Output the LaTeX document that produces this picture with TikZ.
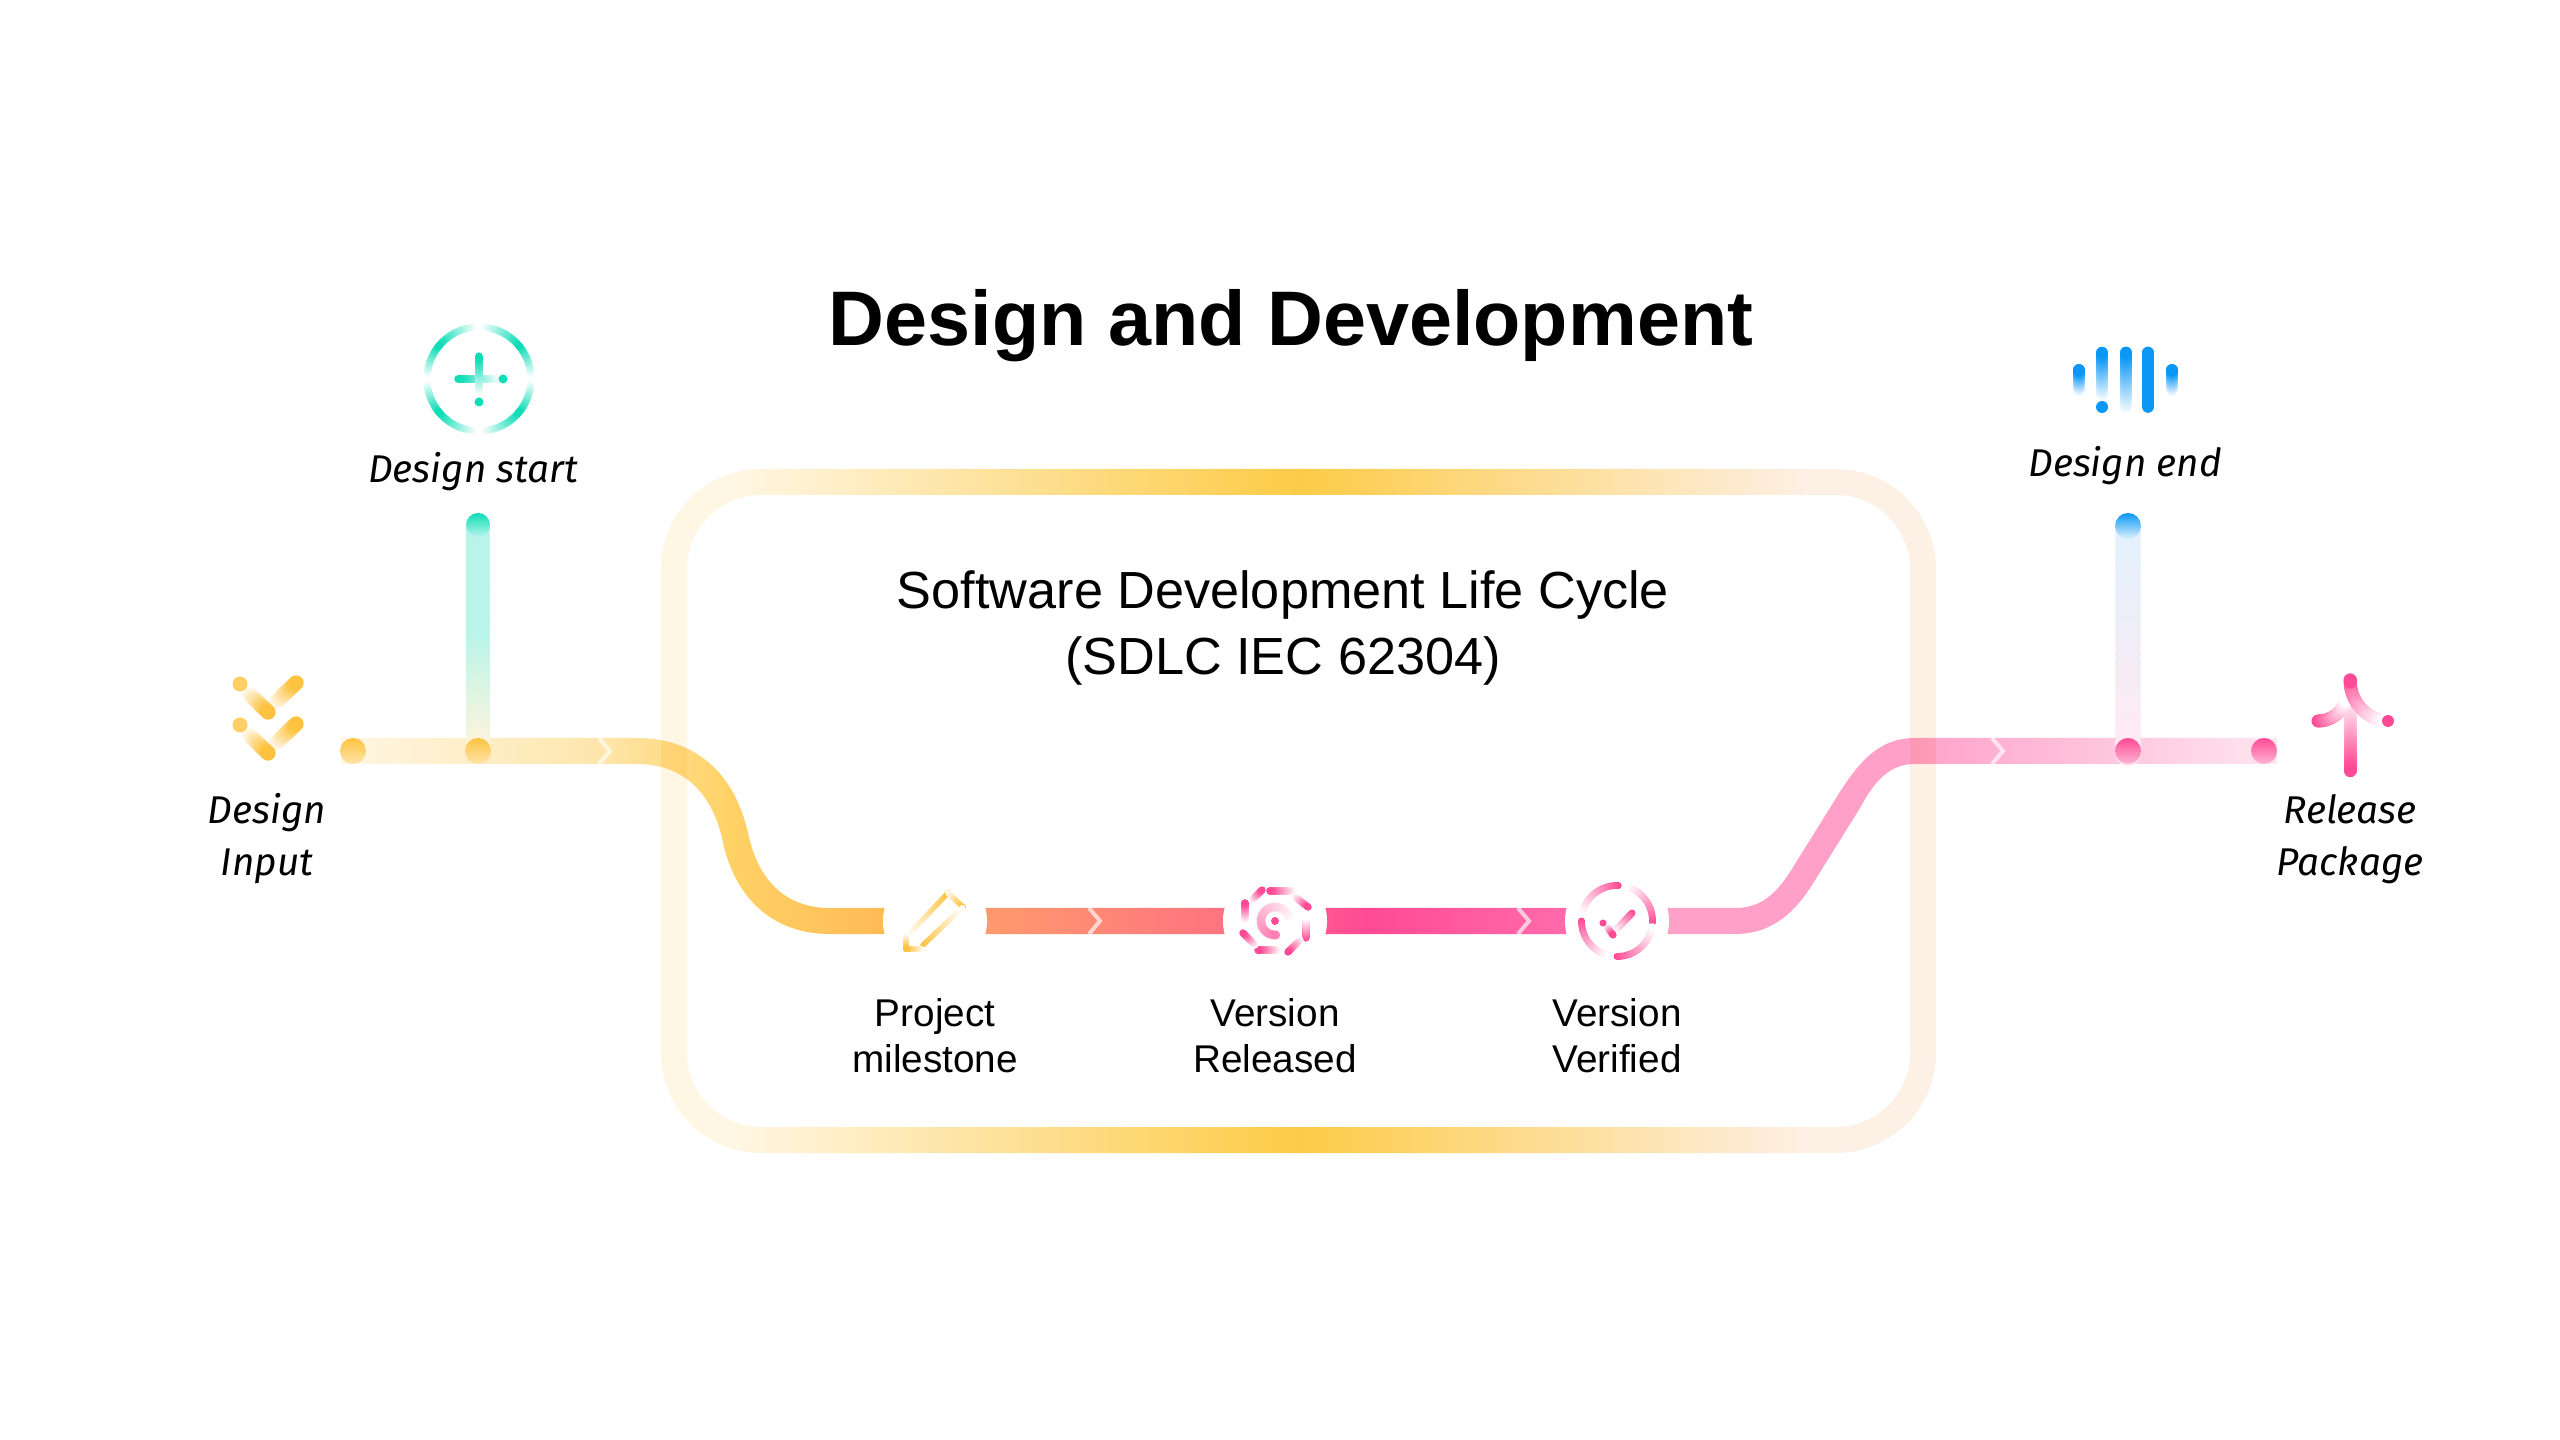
\documentclass[tikz,border=0pt]{standalone}
\usepackage{fontspec}
\setmainfont{Liberation Sans}
\newfontfamily\labelfont{Fira Sans}
\usetikzlibrary{calc}
\definecolor{cream}{HTML}{FFF6E3}
\definecolor{peach}{HTML}{FDF0E5}
\definecolor{gold}{HTML}{FDCB47}
\definecolor{trackb}{HTML}{FEE6AC}
\definecolor{trackc}{HTML}{FFD266}
\definecolor{trackd}{HTML}{FFBB55}
\definecolor{tracke}{HTML}{FF9A6C}
\definecolor{trackf}{HTML}{FF7380}
\definecolor{trackg}{HTML}{FF4A95}
\definecolor{trackh}{HTML}{FF6AAA}
\definecolor{tracki}{HTML}{FFA0C8}
\definecolor{trackj}{HTML}{FFC8DE}
\definecolor{trackk}{HTML}{FEE6F0}
\definecolor{teal}{HTML}{0FDDB8}
\definecolor{amber}{HTML}{FDC340}
\definecolor{rose}{HTML}{FF4A95}
\definecolor{sky}{HTML}{0A97F5}
\colorlet{tealpale}{teal!30!white}
\colorlet{amberfoot}{amber!18!white}
\colorlet{amberpale}{amber!45!white}
\colorlet{skypale}{sky!12!white}
\colorlet{rosefoot}{rose!12!white}
\colorlet{rosepale}{rose!40!white}
\colorlet{roselight}{rose!70!white}
% colour stops run across the whole picture, 25bp is the left side and 75bp the right side
\pgfdeclarehorizontalshading{frameshade}{100bp}{color(0bp)=(cream);color(25bp)=(cream);color(28bp)=(cream);color(50bp)=(gold);color(70bp)=(peach);color(75bp)=(peach);color(100bp)=(peach)}
\pgfdeclarehorizontalshading{trackshade}{100bp}{color(0bp)=(cream);color(25bp)=(cream);color(31.7bp)=(trackb);color(35bp)=(trackc);color(39bp)=(trackd);color(41.6bp)=(tracke);color(47.8bp)=(trackf);color(51.5bp)=(trackg);color(56.6bp)=(trackh);color(59.3bp)=(tracki);color(65.3bp)=(tracki);color(71bp)=(trackj);color(75bp)=(trackk);color(100bp)=(trackk)}
\tikzset{
  titletext/.style={font=\bfseries\fontsize{22}{26}\selectfont},
  headtext/.style={font=\fontsize{14.85}{19}\selectfont,align=center},
  steptext/.style={font=\fontsize{11}{13}\selectfont,align=center},
  endtext/.style={font=\labelfont\itshape\fontsize{11}{14.8}\selectfont,align=center},
  gapdisc/.style={circle,fill=white,minimum size=1.04cm,inner sep=0pt}
}
% stroke from (#2) to (#3), width #1, going from colour #4 to colour #5
\newcommand{\fadeline}[5]{
  \foreach \i in {0,4,...,100} {
    \draw [#5!\i!#4,line width=#1,line cap=round] ($(#2)!\i/100!(#3)$) -- ($(#2)!\i/100+0.01!(#3)$);
  }
}
% arc round centre (#2), radius #3, from angle #4 to angle #5, colour #6 to colour #7
\newcommand{\fadearc}[7]{
  \foreach \i in {0,4,...,100} {
    \pgfmathsetmacro{\aa}{#4+(#5-(#4))/100*\i}
    \pgfmathsetmacro{\ab}{#4+(#5-(#4))/100*(\i+1)}
    \draw [#7!\i!#6,line width=#1,line cap=round] ($(#2)+(\aa:#3)$) arc [start angle=\aa,end angle=\ab,radius=#3];
  }
}
\begin{document}
\begin{tikzpicture}[x=0.01cm,y=-0.01cm]
\useasboundingbox (0,0) rectangle (2560,1440);
% main track
\shade [shading=trackshade]
  (341,738) -- (637,738) .. controls (697,738) and (735,775) .. (748,833) .. controls (758,880) and (785,908) .. (830,908)
  -- (1735,908) .. controls (1760,908) and (1775,895) .. (1790,872) -- (1838,795) .. controls (1860,760) and (1880,738) .. (1915,738)
  -- (2277,738) -- (2277,764) -- (1915,764) .. controls (1890,764) and (1875,780) .. (1860,808)
  -- (1812,885) .. controls (1790,920) and (1765,934) .. (1735,934)
  -- (830,934) .. controls (770,934) and (733,895) .. (722,838) .. controls (712,795) and (685,764) .. (637,764) -- (341,764) -- cycle;
% frame over the track
\begin{scope}[blend mode=multiply]
\shade [shading=frameshade,even odd rule,rounded corners=1.0cm]
  (661,469) rectangle (1936,1153) [rounded corners=0.74cm] (687,495) rectangle (1910,1127);
\end{scope}
% white rings for the step icons
\node [gapdisc] (pencil) at (935,921) {};
\node [gapdisc] (target) at (1275,921) {};
\node [gapdisc] (check) at (1617,921) {};
% two risers and the round track stops
\coordinate (inputdot) at (353,751);
\coordinate (startdot) at (478,751);
\coordinate (enddot) at (2128,751);
\coordinate (releasedot) at (2264,751);
\coordinate (starttop) at (478,525);
\coordinate (endtop) at (2128,526);
\fadeline{0.24cm}{starttop}{478,640}{tealpale}{tealpale}
\fadeline{0.24cm}{478,640}{startdot}{tealpale}{amberfoot}
\fadeline{0.26cm}{endtop}{enddot}{skypale}{rosefoot}
\shade [top color=teal,bottom color=tealpale] (starttop) circle (12);
\shade [top color=sky,bottom color=skypale] (endtop) circle (13);
\shade [top color=amber,bottom color=amberpale] (inputdot) circle (13);
\shade [top color=amber,bottom color=amberpale] (startdot) circle (13);
\shade [top color=rose,bottom color=rosepale] (enddot) circle (13);
\shade [top color=rose,bottom color=rosepale] (releasedot) circle (13);
% white chevrons on the track
\foreach \x/\y in {605/751,1095/921,1524/921,1998/751} {
  \draw [white,opacity=0.65,line width=0.04cm] (\x-6,\y-13) -- (\x+5,\y) -- (\x-6,\y+13);
}
% texts
\node [titletext] (title) at (1291,326) {Design and Development};
\node [headtext] (head) at (1283,628) {Software Development Life Cycle\\(SDLC IEC 62304)};
\node [steptext] (milestone) at (935,1036) {Project\\milestone};
\node [steptext] (released) at (1275,1036) {Version\\Released};
\node [steptext] (verified) at (1617,1036) {Version\\Verified};
\node [endtext] (input) at (267,839) {Design\\Input};
\node [endtext] (start) at (473,472) {Design start};
\node [endtext] (end) at (2125,466) {Design end};
\node [endtext] (release) at (2350,839) {Release\\Package};
% icon design start
\coordinate (plus) at (479,379);
\fadearc{0.075cm}{plus}{52}{85}{40}{white}{teal}
\fadearc{0.075cm}{plus}{52}{5}{40}{white}{teal}
\fadearc{0.075cm}{plus}{52}{-5}{-40}{white}{teal}
\fadearc{0.075cm}{plus}{52}{-85}{-40}{white}{teal}
\fadearc{0.075cm}{plus}{52}{95}{140}{white}{teal}
\fadearc{0.075cm}{plus}{52}{175}{140}{white}{teal}
\fadearc{0.075cm}{plus}{52}{185}{220}{white}{teal}
\fadearc{0.075cm}{plus}{52}{265}{220}{white}{teal}
\fadeline{0.087cm}{497,379}{459,379}{white}{teal}
\fadeline{0.087cm}{479,392}{479,357}{white}{teal}
\fill [teal] (503,379) circle (4.5) (479,402) circle (4.5);
% icon design input
\foreach \y in {0,41} {
  \fadeline{0.15cm}{275,\y+703}{296,\y+683}{white}{amber}
  \fadeline{0.15cm}{248,\y+693}{268,\y+712}{white}{amber}
  \fill [amber!80!white] (240,\y+684) circle (7.5);
}
% icon design end
\fadeline{0.117cm}{2102,397}{2102,353}{white}{sky}
\fadeline{0.117cm}{2126,410}{2126,353}{white}{sky}
\fadeline{0.117cm}{2148,407}{2148,353}{sky}{sky}
\fadeline{0.117cm}{2079,391}{2079,370}{white}{sky}
\fadeline{0.117cm}{2172,391}{2172,370}{white}{sky}
\fill [sky] (2102,407) circle (6);
% icon release package
\fadeline{0.13cm}{2350,700}{2350,770}{white}{rose}
\fadearc{0.13cm}{2318,692}{29}{90}{15}{rose}{white}
\fadearc{0.13cm}{2392,680}{42}{180}{100}{rose}{white}
\draw [rose,line width=0.13cm,line cap=round] (2350,680) -- (2350,682);
\fill [rose] (2388,721) circle (6);
% icon pencil
\fadeline{0.055cm}{908,935}{948,893}{white}{amber}
\fadeline{0.055cm}{948,893}{963,907}{white}{amber}
\fadeline{0.055cm}{923,945}{962,908}{amber}{white}
\fadeline{0.055cm}{906,936}{906,949}{white}{amber}
\fadeline{0.055cm}{922,949}{906,949}{white}{amber}
% icon target
\fadeline{0.072cm}{1293,891}{1270,891}{white}{rose}
\fadeline{0.072cm}{1295,897}{1308,907}{white}{rose}
\fadeline{0.072cm}{1306,938}{1306,917}{rose}{white}
\fadeline{0.072cm}{1300,940}{1288,952}{white}{rose}
\fadeline{0.072cm}{1278,950}{1258,950}{white}{rose}
\fadeline{0.072cm}{1255,945}{1243,933}{white}{rose}
\fadeline{0.072cm}{1245,920}{1245,903}{white}{rose}
\fadeline{0.072cm}{1252,900}{1262,890}{white}{rose}
\fadearc{0.09cm}{target}{14}{360}{90}{white}{roselight}
\fill [white] (target) circle (7);
\fill [rose] (target) circle (4);
% icon check
\fadearc{0.07cm}{check}{35.5}{272}{190}{rose}{white}
\fadearc{0.07cm}{check}{35.5}{2}{-75}{rose}{white}
\fadearc{0.07cm}{check}{35.5}{90}{10}{rose}{white}
\fadearc{0.07cm}{check}{35.5}{180}{105}{rose}{white}
\fadeline{0.07cm}{1632,913}{1613,933}{rose}{white}
\fadeline{0.07cm}{1607,927}{1613,935}{white}{rose}
\fill [rose] (1603,923) circle (3.5);
\end{tikzpicture}
\end{document}
